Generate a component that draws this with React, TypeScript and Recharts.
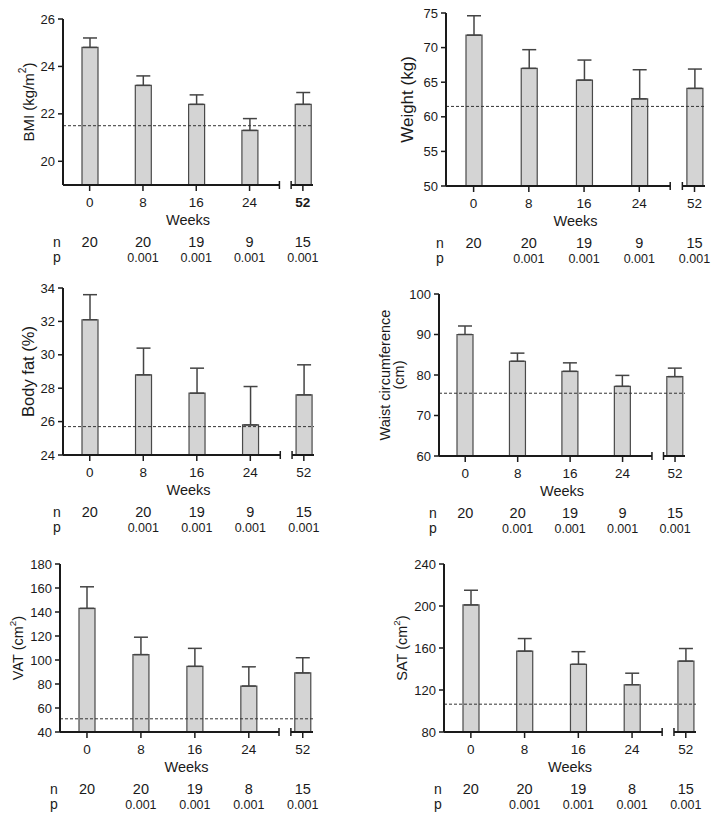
import { BarChart, Bar, XAxis, YAxis, ErrorBar, ReferenceLine, ReferenceDot } from "recharts"

// Study weeks and the n / p table under every panel
const weeks = ["0", "8", "16", "24", "52"]
const nAnthro = [20, 20, 19, 9, 15]
const nScan = [20, 20, 19, 8, 15]
const pValues = ["", "0.001", "0.001", "0.001", "0.001"]

// Mean and upper SEM per week
const bmiMean = [24.8, 23.2, 22.4, 21.3, 22.4]
const bmiErr = [0.4, 0.4, 0.4, 0.5, 0.5]
const bmiRef = 21.5
const bmiTicks = [20, 22, 24, 26]

const weightMean = [71.8, 67.0, 65.3, 62.6, 64.1]
const weightErr = [2.8, 2.7, 2.9, 4.2, 2.8]
const weightRef = 61.5
const weightTicks = [50, 55, 60, 65, 70, 75]

const fatMean = [32.1, 28.8, 27.7, 25.8, 27.6]
const fatErr = [1.5, 1.6, 1.5, 2.3, 1.8]
const fatRef = 25.7
const fatTicks = [24, 26, 28, 30, 32, 34]

const waistMean = [90.0, 83.4, 80.9, 77.2, 79.6]
const waistErr = [2.1, 2.0, 2.1, 2.7, 2.1]
const waistRef = 75.5
const waistTicks = [60, 70, 80, 90, 100]

const vatMean = [143, 104.5, 94.7, 78.3, 89.2]
const vatErr = [18, 14.5, 15, 16, 12.7]
const vatRef = 51
const vatTicks = [40, 60, 80, 100, 120, 140, 160, 180]

const satMean = [201, 157, 144.5, 125, 147.5]
const satErr = [14, 12, 12, 11, 12]
const satRef = 106.5
const satTicks = [80, 120, 160, 200, 240]

const font = '"Liberation Sans", Arial, Helvetica, sans-serif'
const ink = "#1a1a1a"

// x axis runs on the week index; the last band is squeezed after the break
const xMax = 4.19
const breakStart = 3.56
const breakEnd = 3.78
const yAxisW = 45
const xAxisH = 80

type Part = { t: string; sup?: boolean }

interface PanelSpec {
  title: Part[][]
  titleX: number[]
  titleSize: number
  means: number[]
  errs: number[]
  ref: number
  domain: [number, number]
  ticks: number[]
  n: number[]
  boldLast?: boolean
  box: { left: number; top: number; h: number; L: number; R: number; T: number; B: number }
}

const panels: PanelSpec[] = [
  {
    title: [[{ t: "BMI (kg/m" }, { t: "2", sup: true }, { t: ")" }]],
    titleX: [28], titleSize: 15,
    means: bmiMean, errs: bmiErr, ref: bmiRef, domain: [19, 26], ticks: bmiTicks, n: nAnthro, boldLast: true,
    box: { left: 0, top: 0, h: 270, L: 63, R: 313, T: 19, B: 185 },
  },
  {
    title: [[{ t: "Weight (kg)" }]],
    titleX: [47], titleSize: 17,
    means: weightMean, errs: weightErr, ref: weightRef, domain: [50, 75], ticks: weightTicks, n: nAnthro,
    box: { left: 360, top: 0, h: 270, L: 446, R: 705, T: 13, B: 186 },
  },
  {
    title: [[{ t: "Body fat (%)" }]],
    titleX: [28], titleSize: 16.5,
    means: fatMean, errs: fatErr, ref: fatRef, domain: [24, 34], ticks: fatTicks, n: nAnthro,
    box: { left: 0, top: 270, h: 270, L: 63, R: 314, T: 288, B: 455 },
  },
  {
    title: [[{ t: "Waist circumference" }], [{ t: "(cm)" }]],
    titleX: [25, 39], titleSize: 14.5,
    means: waistMean, errs: waistErr, ref: waistRef, domain: [60, 100], ticks: waistTicks, n: nAnthro,
    box: { left: 360, top: 270, h: 270, L: 439, R: 685, T: 294, B: 456 },
  },
  {
    title: [[{ t: "VAT (cm" }, { t: "2", sup: true }, { t: ")" }]],
    titleX: [18], titleSize: 14.5,
    means: vatMean, errs: vatErr, ref: vatRef, domain: [40, 180], ticks: vatTicks, n: nScan,
    box: { left: 0, top: 540, h: 281, L: 60, R: 313, T: 564, B: 732 },
  },
  {
    title: [[{ t: "SAT (cm" }, { t: "2", sup: true }, { t: ")" }]],
    titleX: [42], titleSize: 14.5,
    means: satMean, errs: satErr, ref: satRef, domain: [80, 240], ticks: satTicks, n: nScan,
    box: { left: 360, top: 540, h: 281, L: 444, R: 696, T: 564, B: 732 },
  },
]

function YTitle({ viewBox, title, xs, size }: any) {
  const cy = viewBox.y + viewBox.height / 2
  return (
    <g>
      {title.map((line: Part[], li: number) => (
        <text
          key={li}
          x={xs[li]}
          y={cy}
          transform={`rotate(-90 ${xs[li]} ${cy})`}
          textAnchor="middle"
          dominantBaseline="central"
          fontFamily={font}
          fontSize={size}
          fill={ink}
        >
          {line.map((p, i) => {
            const prevSup = i > 0 && line[i - 1].sup
            if (p.sup) return <tspan key={i} dy={-size * 0.38} fontSize={size * 0.68}>{p.t}</tspan>
            return <tspan key={i} dy={prevSup ? size * 0.38 : undefined}>{p.t}</tspan>
          })}
        </text>
      ))}
    </g>
  )
}

function XTitle({ viewBox }: any) {
  const { x, y, width } = viewBox
  return (
    <g fontFamily={font} fill={ink}>
      <text x={x + width / 2} y={y + 40} textAnchor="middle" fontSize={14.5}>Weeks</text>
      <text x={x - 6} y={y + 62} textAnchor="middle" fontSize={14}>n</text>
      <text x={x - 6} y={y + 77} textAnchor="middle" fontSize={14}>p</text>
    </g>
  )
}

function WeekTick({ x, y, payload, n, boldLast }: any) {
  const i = payload.value
  return (
    <g fontFamily={font} fill={ink} textAnchor="middle">
      <text x={x} y={y + 13.5} fontSize={13.5} fontWeight={boldLast && i === 4 ? "bold" : "normal"}>{weeks[i]}</text>
      <text x={x} y={y + 54} fontSize={14.5}>{n[i]}</text>
      <text x={x} y={y + 68.5} fontSize={12.5}>{pValues[i]}</text>
    </g>
  )
}

function BreakMark({ cx, cy }: any) {
  return <line x1={cx} x2={cx} y1={cy - 4} y2={cy + 4} stroke={ink} strokeWidth={1.5} />
}

function Panel({ spec }: { spec: PanelSpec }) {
  const { box } = spec
  const width = 360
  const yMin = spec.domain[0]
  const margin = {
    top: box.T - box.top,
    left: box.L - box.left - yAxisW,
    right: box.left + width - box.R,
    bottom: box.top + box.h - box.B - xAxisH,
  }
  const data = weeks.map((w, i) => ({ idx: i, week: w, mean: spec.means[i], err: [0, spec.errs[i]] }))

  return (
    <div style={{ position: "absolute", left: box.left, top: box.top }}>
      <BarChart width={width} height={box.h} data={data} margin={margin}>
        <XAxis
          type="number"
          dataKey="idx"
          domain={[-0.5, xMax]}
          ticks={[0, 1, 2, 3, 4]}
          interval={0}
          allowDataOverflow
          axisLine={false}
          tickLine={{ stroke: ink, strokeWidth: 1.5 }}
          tickSize={6}
          tickMargin={2}
          height={xAxisH}
          tick={<WeekTick n={spec.n} boldLast={spec.boldLast} />}
          label={<XTitle />}
        />
        <YAxis
          type="number"
          domain={spec.domain}
          ticks={spec.ticks}
          interval={0}
          allowDataOverflow
          width={yAxisW}
          axisLine={{ stroke: ink, strokeWidth: 2 }}
          tickLine={{ stroke: ink, strokeWidth: 1.5 }}
          tickSize={5}
          tickMargin={3}
          tick={{ fill: ink, fontSize: 13, fontFamily: font }}
          label={<YTitle title={spec.title} xs={spec.titleX} size={spec.titleSize} />}
        />
        <Bar dataKey="mean" barSize={16} fill="#d4d4d4" stroke="#4a4a4a" strokeWidth={1.2} isAnimationActive={false}>
          <ErrorBar dataKey="err" width={7} stroke="#444" strokeWidth={1.5} direction="y" isAnimationActive={false} />
        </Bar>
        <ReferenceLine y={spec.ref} stroke="#333" strokeWidth={1} strokeDasharray="3 2" />
        <ReferenceLine
          segment={[{ x: -0.5, y: yMin }, { x: breakStart, y: yMin }]}
          stroke={ink}
          strokeWidth={2}
          ifOverflow="visible"
        />
        <ReferenceLine
          segment={[{ x: breakEnd, y: yMin }, { x: xMax, y: yMin }]}
          stroke={ink}
          strokeWidth={2}
          ifOverflow="visible"
        />
        <ReferenceDot x={breakStart} y={yMin} ifOverflow="visible" shape={<BreakMark />} />
        <ReferenceDot x={breakEnd} y={yMin} ifOverflow="visible" shape={<BreakMark />} />
      </BarChart>
    </div>
  )
}

export default function App() {
  return (
    <div style={{ position: "absolute", left: 0, top: 0, width: 720, height: 821, background: "#fff" }}>
      {panels.map((p, i) => (
        <Panel key={i} spec={p} />
      ))}
    </div>
  )
}
